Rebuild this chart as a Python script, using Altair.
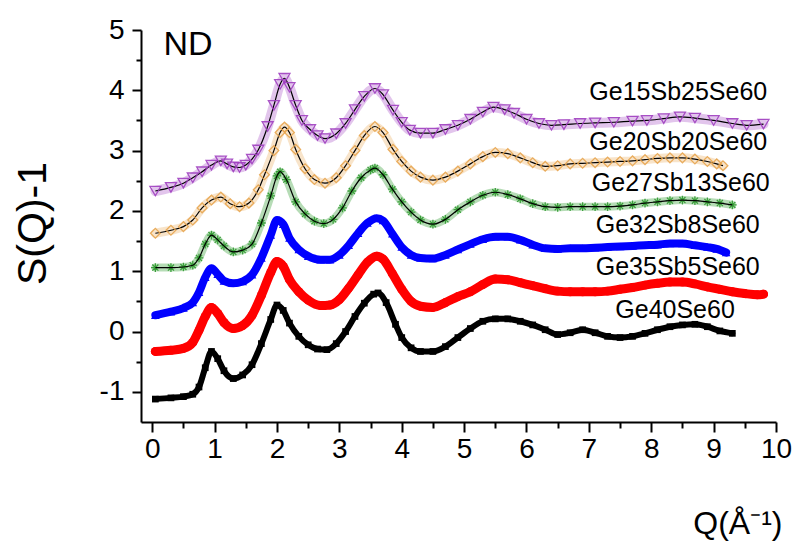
import altair as alt
import pandas as pd

# ---- data ----
names = ["Ge40Se60", "Ge35Sb5Se60", "Ge32Sb8Se60", "Ge27Sb13Se60", "Ge20Sb20Se60", "Ge15Sb25Se60"]

q_ge40 = [0.05, 0.3, 0.5, 0.65, 0.75, 0.85, 0.95, 1.05, 1.15, 1.3, 1.45, 1.6, 1.75, 1.9, 2.0, 2.1, 2.2, 2.35, 2.5, 2.65,
          2.8, 2.95, 3.1, 3.25, 3.4, 3.55, 3.62, 3.75, 3.9, 4.0, 4.15, 4.3, 4.5, 4.7, 4.9, 5.1, 5.3, 5.5, 5.7, 5.9,
          6.1, 6.3, 6.5, 6.7, 6.9, 7.1, 7.3, 7.5, 7.7, 7.9, 8.1, 8.3, 8.5, 8.7, 8.9, 9.1, 9.3]
s_ge40 = [-1.12, -1.10, -1.08, -1.04, -0.92, -0.60, -0.33, -0.45, -0.65, -0.78, -0.72, -0.55, -0.20, 0.20, 0.44, 0.35, 0.14, -0.08, -0.22, -0.29,
          -0.30, -0.20, 0.00, 0.25, 0.47, 0.62, 0.64, 0.48, 0.12, -0.10, -0.27, -0.33, -0.33, -0.25, -0.10, 0.05, 0.17, 0.21, 0.21, 0.17,
          0.11, 0.03, -0.05, -0.02, 0.03, -0.02, -0.08, -0.10, -0.08, -0.03, 0.03, 0.08, 0.11, 0.12, 0.08, 0.01, -0.03]

q_ge35 = [0.05, 0.3, 0.5, 0.65, 0.75, 0.85, 0.95, 1.05, 1.15, 1.3, 1.45, 1.6, 1.75, 1.9, 2.0, 2.1, 2.2, 2.35, 2.5, 2.7,
          2.85, 3.0, 3.15, 3.3, 3.45, 3.6, 3.7, 3.85, 4.0, 4.15, 4.3, 4.5, 4.7, 4.9, 5.1, 5.3, 5.5, 5.7, 5.9, 6.1,
          6.3, 6.5, 6.7, 6.9, 7.1, 7.3, 7.5, 7.7, 7.9, 8.1, 8.3, 8.5, 8.7, 8.9, 9.1, 9.3, 9.5, 9.7, 9.8]
s_ge35 = [-0.33, -0.31, -0.28, -0.18, 0.02, 0.25, 0.40, 0.30, 0.15, 0.05, 0.10, 0.27, 0.60, 0.98, 1.16, 1.08, 0.86, 0.66, 0.52, 0.43,
          0.44, 0.53, 0.72, 0.94, 1.15, 1.25, 1.20, 0.96, 0.70, 0.50, 0.42, 0.40, 0.48, 0.58, 0.66, 0.78, 0.87, 0.86, 0.81, 0.76,
          0.71, 0.67, 0.66, 0.66, 0.66, 0.67, 0.70, 0.73, 0.77, 0.80, 0.82, 0.82, 0.79, 0.74, 0.70, 0.66, 0.63, 0.61, 0.62]

q_ge32 = [0.05, 0.3, 0.5, 0.65, 0.75, 0.85, 0.95, 1.05, 1.15, 1.3, 1.45, 1.6, 1.75, 1.9, 2.0, 2.1, 2.2, 2.35, 2.5, 2.7,
          2.85, 3.0, 3.15, 3.3, 3.45, 3.6, 3.7, 3.85, 4.0, 4.15, 4.3, 4.5, 4.7, 4.9, 5.1, 5.3, 5.5, 5.7, 5.9, 6.1,
          6.3, 6.5, 6.7, 6.9, 7.1, 7.3, 7.5, 7.7, 7.9, 8.1, 8.3, 8.5, 8.7, 8.9, 9.05, 9.2]
s_ge32 = [0.27, 0.33, 0.39, 0.48, 0.65, 0.90, 1.05, 0.95, 0.84, 0.80, 0.83, 0.94, 1.22, 1.60, 1.85, 1.78, 1.55, 1.36, 1.25, 1.19,
          1.19, 1.27, 1.43, 1.63, 1.80, 1.88, 1.84, 1.62, 1.40, 1.27, 1.22, 1.21, 1.27, 1.36, 1.45, 1.53, 1.57, 1.57, 1.52, 1.44,
          1.38, 1.37, 1.38, 1.38, 1.39, 1.40, 1.41, 1.42, 1.43, 1.44, 1.46, 1.46, 1.43, 1.40, 1.37, 1.31]

q_ge27 = [0.05, 0.3, 0.5, 0.65, 0.75, 0.85, 0.95, 1.05, 1.15, 1.3, 1.45, 1.6, 1.75, 1.9, 2.0, 2.05, 2.15, 2.3, 2.45, 2.6,
          2.75, 2.9, 3.05, 3.2, 3.35, 3.5, 3.57, 3.7, 3.85, 4.0, 4.15, 4.3, 4.5, 4.7, 4.9, 5.1, 5.3, 5.5, 5.7, 5.9,
          6.1, 6.3, 6.5, 6.7, 6.9, 7.1, 7.3, 7.5, 7.7, 7.9, 8.1, 8.3, 8.5, 8.7, 8.9, 9.1, 9.3]
s_ge27 = [1.06, 1.06, 1.07, 1.10, 1.22, 1.45, 1.60, 1.52, 1.42, 1.32, 1.35, 1.45, 1.80, 2.25, 2.58, 2.65, 2.52, 2.15, 1.95, 1.83,
          1.79, 1.86, 2.05, 2.33, 2.55, 2.68, 2.71, 2.60, 2.36, 2.15, 1.98, 1.85, 1.78, 1.86, 2.02, 2.15, 2.26, 2.31, 2.27, 2.20,
          2.12, 2.07, 2.06, 2.07, 2.07, 2.07, 2.07, 2.08, 2.10, 2.13, 2.15, 2.17, 2.18, 2.17, 2.15, 2.13, 2.10]

q_ge20 = [0.05, 0.3, 0.5, 0.65, 0.8, 0.95, 1.1, 1.25, 1.4, 1.55, 1.7, 1.8, 1.95, 2.05, 2.12, 2.2, 2.3, 2.45, 2.6, 2.77,
          2.95, 3.1, 3.25, 3.4, 3.57, 3.7, 3.86, 4.0, 4.15, 4.3, 4.5, 4.7, 4.9, 5.1, 5.3, 5.5, 5.7, 5.9, 6.1, 6.3,
          6.5, 6.7, 6.9, 7.1, 7.3, 7.5, 7.7, 7.9, 8.1, 8.3, 8.5, 8.7, 8.9, 9.05, 9.15]
s_ge20 = [1.63, 1.68, 1.74, 1.85, 2.05, 2.18, 2.23, 2.12, 2.07, 2.13, 2.35, 2.60, 3.00, 3.30, 3.39, 3.30, 3.02, 2.70, 2.52, 2.46,
          2.55, 2.75, 3.00, 3.25, 3.40, 3.30, 3.02, 2.82, 2.66, 2.56, 2.51, 2.56, 2.66, 2.78, 2.90, 2.97, 2.95, 2.88, 2.80, 2.74,
          2.75, 2.78, 2.79, 2.80, 2.81, 2.82, 2.83, 2.85, 2.87, 2.88, 2.88, 2.86, 2.82, 2.78, 2.75]

q_ge15 = [0.05, 0.3, 0.5, 0.65, 0.8, 0.95, 1.1, 1.2, 1.3, 1.4, 1.5, 1.6, 1.7, 1.85, 1.95, 2.05, 2.12, 2.2, 2.3, 2.4,
          2.53, 2.65, 2.77, 2.95, 3.1, 3.25, 3.4, 3.57, 3.7, 3.86, 4.0, 4.13, 4.3, 4.5, 4.7, 4.9, 5.1, 5.3, 5.47, 5.65,
          5.8, 6.0, 6.2, 6.4, 6.6, 6.86, 7.1, 7.4, 7.7, 7.93, 8.2, 8.46, 8.7, 9.0, 9.3, 9.53, 9.8]
s_ge15 = [2.33, 2.39, 2.46, 2.55, 2.65, 2.76, 2.83, 2.78, 2.73, 2.72, 2.76, 2.86, 3.01, 3.40, 3.75, 4.10, 4.20, 4.05, 3.75, 3.50,
          3.35, 3.25, 3.20, 3.28, 3.45, 3.68, 3.90, 4.03, 3.93, 3.67, 3.47, 3.34, 3.29, 3.29, 3.35, 3.42, 3.52, 3.64, 3.72, 3.68,
          3.62, 3.52, 3.45, 3.42, 3.43, 3.45, 3.46, 3.47, 3.49, 3.50, 3.53, 3.56, 3.54, 3.50, 3.45, 3.42, 3.44]

label_q = [9.34, 9.74, 9.74, 9.90, 9.86, 9.86]
label_s = [0.36, 1.07, 1.77, 2.46, 3.14, 3.97]

# ---- styles ----
FONT = "Liberation Sans"
ast = "M-1,0L1,0M0,-1L0,1M-0.7,-0.7L0.7,0.7M-0.7,0.7L0.7,-0.7"
styles = {
    "Ge40Se60":     dict(color="#000000", shape="square", size=45, filled=True, band=6, band_op=1.0),
    "Ge35Sb5Se60":  dict(color="#ff0000", shape="circle", size=80, filled=True, band=9, band_op=1.0),
    "Ge32Sb8Se60":  dict(color="#0000ff", shape="triangle-up", size=75, filled=True, band=8, band_op=1.0),
    "Ge27Sb13Se60": dict(color="#2e9a2e", shape=ast, size=75, filled=False, band=8, band_op=0.35),
    "Ge20Sb20Se60": dict(color="#e8a650", shape="diamond", size=95, filled=False, band=9, band_op=0.3),
    "Ge15Sb25Se60": dict(color="#a040c0", shape="triangle-down", size=120, filled=False, band=10, band_op=0.3),
}
qs = [q_ge40, q_ge35, q_ge32, q_ge27, q_ge20, q_ge15]
ss = [s_ge40, s_ge35, s_ge32, s_ge27, s_ge20, s_ge15]

xscale = alt.Scale(domain=[-0.18, 10], nice=False, zero=False)
yscale = alt.Scale(domain=[-1.5, 5], nice=False, zero=False)

xaxis = alt.Axis(
    values=[i * 0.5 for i in range(0, 21)],
    labelExpr="datum.value % 1 === 0 ? '' + datum.value : ''",
    tickSize={"condition": {"test": "datum.value % 1 === 0", "value": 10}, "value": 6},
    title="Q(Å⁻¹)", titleFont=FONT, titleFontSize=32, titleFontWeight="normal", titleColor="black",
    titleAnchor="end", titleAlign="right", titleBaseline="alphabetic", titleX=641, titleY=111,
    labelFont=FONT, labelFontSize=28, labelColor="black", labelPadding=3, grid=False,
    domainColor="black", domainWidth=2, tickColor="black", tickWidth=2, labelFlush=False,
)
yaxis = alt.Axis(
    values=[-1 + i * 0.5 for i in range(0, 13)],
    labelExpr="datum.value % 1 === 0 ? '' + datum.value : ''",
    tickSize={"condition": {"test": "datum.value % 1 === 0", "value": 9}, "value": 5},
    title="S(Q)-1", titleFont=FONT, titleFontSize=41, titleFontWeight="normal", titleColor="black",
    titleAngle=270, titleAlign="center", titleBaseline="middle", titleX=-108, titleY=193,
    labelFont=FONT, labelFontSize=28, labelColor="black", labelPadding=8, grid=False,
    domainColor="black", domainWidth=2, tickColor="black", tickWidth=2, labelFlush=False,
)

X = alt.X("Q:Q", scale=xscale, axis=xaxis)
Y = alt.Y("S:Q", scale=yscale, axis=yaxis)

layers = []
for name, q, s in zip(names, qs, ss):
    st = styles[name]
    df = pd.DataFrame({"Q": q, "S": s})
    base = alt.Chart(df).encode(x=X, y=Y)
    band = base.mark_line(color=st["color"], strokeWidth=st["band"], opacity=st["band_op"],
                          interpolate="monotone", strokeCap="round")
    thin = base.mark_line(color="black", strokeWidth=1.2, interpolate="monotone")
    if st["filled"]:
        pts = base.mark_point(shape=st["shape"], size=st["size"], filled=True, color=st["color"], opacity=1)
        layers += [band, pts]
    else:
        pts = base.mark_point(shape=st["shape"], size=st["size"], filled=False, color=st["color"],
                              strokeWidth=1.3, opacity=0.9)
        if name == "Ge27Sb13Se60":
            layers += [band, pts, thin]
        else:
            layers += [band, thin, pts]

lab_df = pd.DataFrame({"name": names, "Q": label_q, "S": label_s})
labels = alt.Chart(lab_df).mark_text(font=FONT, fontSize=25, align="right", baseline="middle", color="black").encode(
    x=X, y=Y, text="name:N")

nd_df = pd.DataFrame({"t": ["ND"], "Q": [0.18], "S": [4.59]})
nd = alt.Chart(nd_df).mark_text(font=FONT, fontSize=34, align="left", baseline="alphabetic", color="black").encode(
    x=X, y=Y, text="t:N")

chart = alt.layer(*layers, labels, nd).properties(
    width=635, height=392,
    autosize=alt.AutoSizeParams(type="none"),
    padding={"left": 141, "top": 30, "right": 19, "bottom": 120},
    background="white",
).configure_view(stroke=None)

chart.save("out.html", embed_options={"renderer": "svg", "actions": False})
